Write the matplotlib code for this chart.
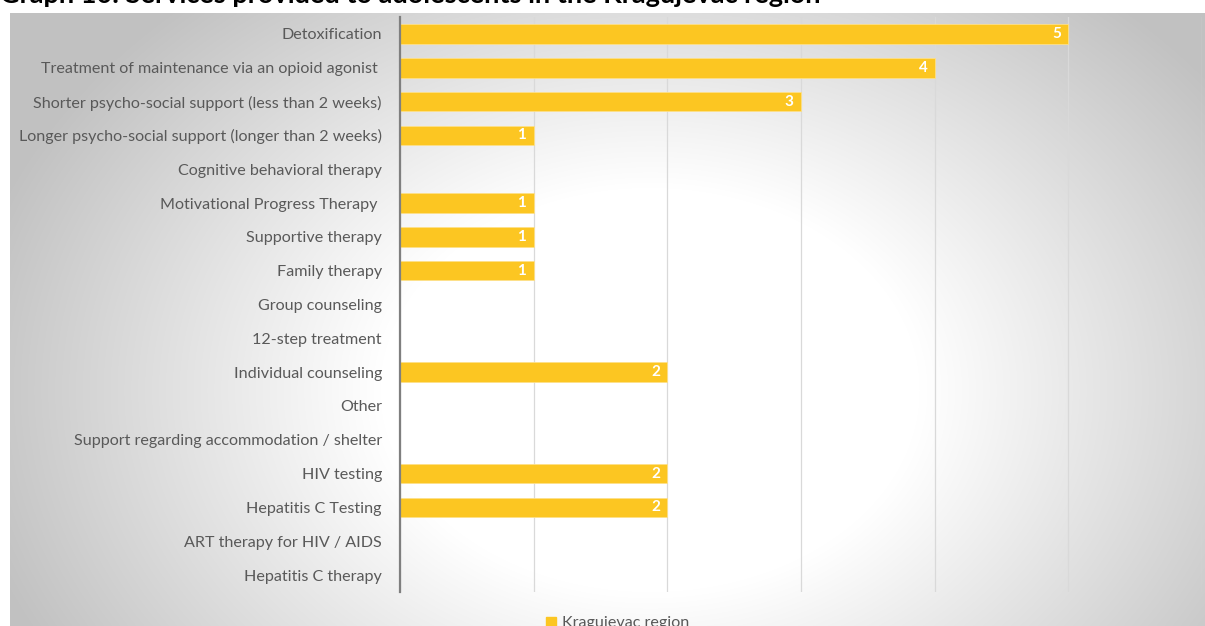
import numpy as np
import matplotlib
matplotlib.use("Agg")
import matplotlib.pyplot as plt
from matplotlib.patches import Rectangle

categories = [
    "Detoxification",
    "Treatment of maintenance via an opioid agonist ",
    "Shorter psycho-social support (less than 2 weeks)",
    "Longer psycho-social support (longer than 2 weeks)",
    "Cognitive behavioral therapy",
    "Motivational Progress Therapy ",
    "Supportive therapy",
    "Family therapy",
    "Group counseling",
    "12-step treatment",
    "Individual counseling",
    "Other",
    "Support regarding accommodation / shelter",
    "HIV testing",
    "Hepatitis C Testing",
    "ART therapy for HIV / AIDS",
    "Hepatitis C therapy",
]
values = [5, 4, 3, 1, 0, 1, 1, 1, 0, 0, 2, 0, 0, 2, 2, 0, 0]
series_name = "Kragujevac region"
title = "Graph 10: Services provided to adolescents in the Kragujevac region"

BAR = "#FCC622"
TXT = "#595959"
FONT = "Lato"

W, H = 1205, 626
fig = plt.figure(figsize=(W / 100, H / 100), dpi=100)
fig.patch.set_facecolor("white")

# radial gradient backdrop of the chart area: white centre, grey rim
bx0, by0 = 10, 13
bw, bh = W - bx0, H - by0
bg = fig.add_axes([bx0 / W, 0, bw / W, bh / H])
yy, xx = np.mgrid[0:bh, 0:bw]
cx, cy = 650 - bx0, 390 - by0
d = np.sqrt(((xx - cx) / 600) ** 2 + ((yy - cy) / 450) ** 2)
v = np.clip(1.0 - 0.34 * np.maximum(0, d - 0.45), 0.76, 1.0)
bg.imshow(np.dstack([v, v, v]), extent=[0, 1, 0, 1], aspect="auto", origin="upper",
          interpolation="bilinear")
bg.set_axis_off()

# plot area
left, right, top, bottom = 400, 1202, 17, 592
ax = fig.add_axes([left / W, 1 - bottom / H, (right - left) / W, (bottom - top) / H])
ax.patch.set_alpha(0)
y = np.arange(len(categories))
ax.barh(y, values, height=0.58, color=BAR, edgecolor="#FDE08A", linewidth=0.6, zorder=3)
ax.set_ylim(len(categories) - 0.5, -0.5)
ax.set_xlim(0, 6)
ax.set_xticks(np.arange(0, 7))
ax.set_xticklabels([])
ax.tick_params(axis="x", length=0)
ax.grid(axis="x", color="#D9D9D9", linewidth=0.9, zorder=0)
ax.set_yticks(y)
ax.set_yticklabels(categories, fontsize=11.6, color=TXT, family=FONT)
ax.tick_params(axis="y", length=0, pad=13)
for s in ["top", "right", "bottom"]:
    ax.spines[s].set_visible(False)
ax.spines["left"].set_color("#7F7F7F")
ax.spines["left"].set_linewidth(1.6)
ax.spines["left"].set_zorder(4)

for yi, val in zip(y, values):
    if val > 0:
        ax.text(val - 0.055, yi, str(val), ha="right", va="center", color="white",
                fontsize=11, fontweight="bold", family=FONT, zorder=5)

# legend, centred on the chart area
leg = fig.legend([Rectangle((0, 0), 1, 1, color=BAR)], [series_name], loc="upper center",
                 bbox_to_anchor=(618 / W, 1 - 602 / H), frameon=False, handlelength=0.6,
                 handleheight=0.6, handletextpad=0.4, prop={"family": FONT, "size": 11.6})
for t in leg.get_texts():
    t.set_color(TXT)

fig.text(0.0, 1 - 3 / H, title, ha="left", va="baseline", fontsize=19.5,
         fontweight="bold", family=FONT, color="black")

fig.savefig("out.png", dpi=100)
